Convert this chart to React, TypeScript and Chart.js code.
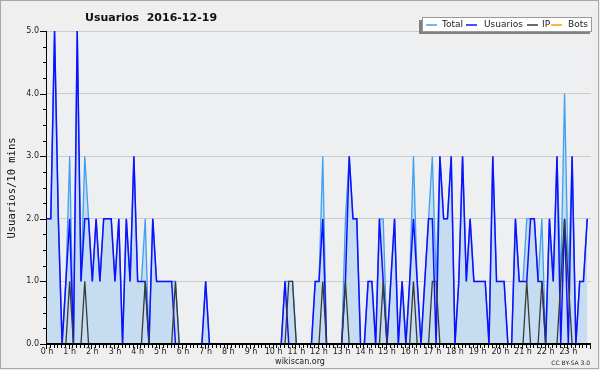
import React, { useEffect, useRef } from "react";
import { Chart, registerables } from "chart.js";

Chart.register(...registerables);

const TITLE = "Usuarios  2016-12-19";
const Y_LABEL = "Usuarios/10 mins";
const FOOTER = "wikiscan.org";
const LICENSE = "CC BY-SA 3.0";
const HOUR_LABELS = [
  "0 h", "1 h", "2 h", "3 h", "4 h", "5 h", "6 h", "7 h", "8 h", "9 h", "10 h", "11 h",
  "12 h", "13 h", "14 h", "15 h", "16 h", "17 h", "18 h", "19 h", "20 h", "21 h", "22 h", "23 h",
];
const Y_TICKS = ["0.0", "1.0", "2.0", "3.0", "4.0", "5.0"];
const SERIES_NAMES = ["Total", "Usuarios", "IP", "Bots"];

// one value per 10 minutes, 24 values per row (4 hours)
const total = [
  2, 2, 5, 2, 0, 1, 3, 0, 5, 1, 3, 2, 1, 2, 1, 2, 2, 2, 1, 2, 0, 2, 1, 3,
  1, 1, 2, 0, 2, 1, 1, 1, 1, 1, 1, 0, 0, 0, 0, 0, 0, 0, 1, 0, 0, 0, 0, 0,
  0, 0, 0, 0, 0, 0, 0, 0, 0, 0, 0, 0, 0, 0, 0, 1, 1, 1, 0, 0, 0, 0, 0, 1,
  1, 3, 0, 0, 0, 0, 0, 2, 3, 2, 2, 0, 0, 1, 1, 0, 2, 2, 0, 1, 2, 0, 1, 0,
  1, 3, 1, 0, 1, 2, 3, 1, 3, 2, 2, 3, 0, 1, 3, 1, 2, 1, 1, 1, 1, 0, 3, 1,
  1, 1, 0, 0, 2, 1, 1, 2, 2, 2, 1, 2, 0, 2, 1, 3, 1, 4, 1, 3, 0, 1, 1, 2,
];
const usuarios = [
  2, 2, 5, 2, 0, 1, 2, 0, 5, 1, 2, 2, 1, 2, 1, 2, 2, 2, 1, 2, 0, 2, 1, 3,
  1, 1, 1, 0, 2, 1, 1, 1, 1, 1, 0, 0, 0, 0, 0, 0, 0, 0, 1, 0, 0, 0, 0, 0,
  0, 0, 0, 0, 0, 0, 0, 0, 0, 0, 0, 0, 0, 0, 0, 1, 0, 0, 0, 0, 0, 0, 0, 1,
  1, 2, 0, 0, 0, 0, 0, 1, 3, 2, 2, 0, 0, 1, 1, 0, 2, 1, 0, 1, 2, 0, 1, 0,
  1, 2, 1, 0, 1, 2, 2, 0, 3, 2, 2, 3, 0, 1, 3, 1, 2, 1, 1, 1, 1, 0, 3, 1,
  1, 1, 0, 0, 2, 1, 1, 1, 2, 2, 1, 1, 0, 2, 1, 3, 0, 2, 0, 3, 0, 1, 1, 2,
];
const ip = [
  0, 0, 0, 0, 0, 0, 1, 0, 0, 0, 1, 0, 0, 0, 0, 0, 0, 0, 0, 0, 0, 0, 0, 0,
  0, 0, 1, 0, 0, 0, 0, 0, 0, 0, 1, 0, 0, 0, 0, 0, 0, 0, 0, 0, 0, 0, 0, 0,
  0, 0, 0, 0, 0, 0, 0, 0, 0, 0, 0, 0, 0, 0, 0, 0, 1, 1, 0, 0, 0, 0, 0, 0,
  0, 1, 0, 0, 0, 0, 0, 1, 0, 0, 0, 0, 0, 0, 0, 0, 0, 1, 0, 0, 0, 0, 0, 0,
  0, 1, 0, 0, 0, 0, 1, 1, 0, 0, 0, 0, 0, 0, 0, 0, 0, 0, 0, 0, 0, 0, 0, 0,
  0, 0, 0, 0, 0, 0, 0, 1, 0, 0, 0, 1, 0, 0, 0, 0, 1, 2, 1, 0, 0, 0, 0, 0,
];
const bots = [
  0, 0, 0, 0, 0, 0, 0, 0, 0, 0, 0, 0, 0, 0, 0, 0, 0, 0, 0, 0, 0, 0, 0, 0,
  0, 0, 0, 0, 0, 0, 0, 0, 0, 0, 0, 0, 0, 0, 0, 0, 0, 0, 0, 0, 0, 0, 0, 0,
  0, 0, 0, 0, 0, 0, 0, 0, 0, 0, 0, 0, 0, 0, 0, 0, 0, 0, 0, 0, 0, 0, 0, 0,
  0, 0, 0, 0, 0, 0, 0, 0, 0, 0, 0, 0, 0, 0, 0, 0, 0, 0, 0, 0, 0, 0, 0, 0,
  0, 0, 0, 0, 0, 0, 0, 0, 0, 0, 0, 0, 0, 0, 0, 0, 0, 0, 0, 0, 0, 0, 0, 0,
  0, 0, 0, 0, 0, 0, 0, 0, 0, 0, 0, 0, 0, 0, 0, 0, 0, 0, 0, 0, 0, 0, 0, 0,
];

const C_TOTAL = "#3f9ff0";
const C_FILL = "#c6dcf0";
const C_USR = "#1010ff";
const C_IP = "#3a3a3a";
const C_BOTS = "#ff9900";
const SERIES_COLORS = [C_TOTAL, C_USR, C_IP, C_BOTS];

const toPts = (arr: number[]) => arr.map((v, i) => ({ x: i, y: v }));

const framePlugin = {
  id: "frame",
  beforeDraw(chart: any) {
    const ctx = chart.ctx as CanvasRenderingContext2D;
    const { left, right, top, bottom } = chart.chartArea;
    ctx.save();
    ctx.fillStyle = "#efefef";
    ctx.fillRect(0, 0, chart.width, chart.height);
    ctx.strokeStyle = "#a8a8a8";
    ctx.lineWidth = 1;
    ctx.strokeRect(0.5, 0.5, 598, 368);
    ctx.fillStyle = "#eeeff1";
    ctx.fillRect(left, top, right - left, bottom - top);
    const y = chart.scales.y;
    ctx.strokeStyle = "#cccccc";
    Y_TICKS.forEach((t) => {
      const v = parseFloat(t);
      if (v === 0) return;
      const py = Math.floor(y.getPixelForValue(v)) + 0.5;
      ctx.beginPath();
      ctx.moveTo(left, py);
      ctx.lineTo(right, py);
      ctx.stroke();
    });
    ctx.restore();
  },
  afterDatasetsDraw(chart: any) {
    const ctx = chart.ctx as CanvasRenderingContext2D;
    const { left, right, top, bottom } = chart.chartArea;
    const x = chart.scales.x;
    const y = chart.scales.y;
    ctx.save();
    ctx.fillStyle = "#000000";
    // axes
    ctx.fillRect(Math.round(left) - 1, top, 1, bottom - top + 1);
    ctx.fillRect(Math.round(left) - 1, Math.round(bottom) - 1, right - left + 1, 2);
    // y ticks
    for (let k = 0; k <= 20; k++) {
      const v = k * 0.25;
      const py = Math.round(y.getPixelForValue(v));
      const len = k % 4 === 0 ? 6 : 3;
      ctx.fillRect(Math.round(left) - 1 - len, py, len, 1);
    }
    // x ticks
    for (let k = 0; k <= 144; k++) {
      const px = Math.round(x.getPixelForValue(k));
      const len = k % 6 === 0 ? 4 : 3;
      ctx.fillRect(px - 1, Math.round(bottom) + 1, 1, len);
    }
    ctx.fillStyle = "#222222";
    ctx.font = "8px 'DejaVu Sans'";
    ctx.textAlign = "right";
    ctx.textBaseline = "middle";
    Y_TICKS.forEach((t) => {
      ctx.fillText(t, Math.round(left) - 8, y.getPixelForValue(parseFloat(t)));
    });
    ctx.textAlign = "center";
    ctx.textBaseline = "alphabetic";
    HOUR_LABELS.forEach((t, h) => {
      ctx.fillText(t, x.getPixelForValue(h * 6), 354);
    });
    // footer
    ctx.font = "8px 'DejaVu Sans'";
    ctx.fillText(FOOTER, 300, 364);
    ctx.font = "6px 'DejaVu Sans'";
    ctx.textAlign = "right";
    ctx.fillText(LICENSE, 590, 365);
    // title
    ctx.fillStyle = "#111111";
    ctx.font = "bold 11px 'DejaVu Sans'";
    ctx.textAlign = "left";
    ctx.fillText(TITLE, 85, 21);
    // y label
    ctx.save();
    ctx.translate(12, 188);
    ctx.rotate(-Math.PI / 2);
    ctx.font = "10.5px 'DejaVu Sans Mono'";
    ctx.textAlign = "center";
    ctx.textBaseline = "middle";
    ctx.fillText(Y_LABEL, 0, 0);
    ctx.restore();
    // legend
    ctx.fillStyle = "#808080";
    ctx.fillRect(419, 20, 171, 14);
    ctx.fillStyle = "#ffffff";
    ctx.fillRect(422, 17, 170, 15);
    ctx.strokeStyle = "#999999";
    ctx.lineWidth = 1;
    ctx.strokeRect(422.5, 17.5, 169, 14);
    const lineX = [426, 466, 527, 551];
    const textX = [442, 484, 542, 568];
    ctx.font = "9px 'DejaVu Sans'";
    ctx.textBaseline = "middle";
    ctx.textAlign = "left";
    SERIES_NAMES.forEach((n, i) => {
      ctx.strokeStyle = SERIES_COLORS[i];
      ctx.lineWidth = 1.5;
      ctx.beginPath();
      ctx.moveTo(lineX[i], 25);
      ctx.lineTo(lineX[i] + 11, 25);
      ctx.stroke();
      ctx.fillStyle = "#222222";
      ctx.fillText(n, textX[i], 25);
    });
    ctx.restore();
  },
};

export default function App() {
  const ref = useRef<HTMLCanvasElement>(null);
  useEffect(() => {
    document.body.style.margin = "0";
    const canvas = ref.current!;
    const chart = new Chart(canvas, {
      type: "line",
      data: {
        datasets: [
          {
            label: SERIES_NAMES[0],
            data: toPts(total),
            borderColor: C_TOTAL,
            backgroundColor: C_FILL,
            fill: "origin",
            borderWidth: 1.3,
            order: 4,
          },
          {
            label: SERIES_NAMES[1],
            data: toPts(usuarios),
            borderColor: C_USR,
            borderWidth: 1.5,
            fill: false,
            order: 3,
          },
          {
            label: SERIES_NAMES[2],
            data: toPts(ip),
            borderColor: C_IP,
            borderWidth: 1.3,
            fill: false,
            order: 2,
          },
          {
            label: SERIES_NAMES[3],
            data: toPts(bots),
            borderColor: C_BOTS,
            borderWidth: 1,
            fill: false,
            order: 5,
          },
        ],
      },
      options: {
        responsive: false,
        animation: false,
        devicePixelRatio: 1,
        layout: { padding: { left: 47, right: 9, top: 31, bottom: 26 } },
        scales: {
          x: { type: "linear", min: 0, max: 144, display: false },
          y: { type: "linear", min: 0, max: 5, display: false },
        },
        plugins: { legend: { display: false }, tooltip: { enabled: false } },
        elements: { point: { radius: 0 }, line: { tension: 0 } },
      },
      plugins: [framePlugin],
    } as any);
    return () => chart.destroy();
  }, []);
  return (
    <div style={{ width: 600, height: 370 }}>
      <canvas ref={ref} width={600} height={370} style={{ display: "block" }} />
    </div>
  );
}
